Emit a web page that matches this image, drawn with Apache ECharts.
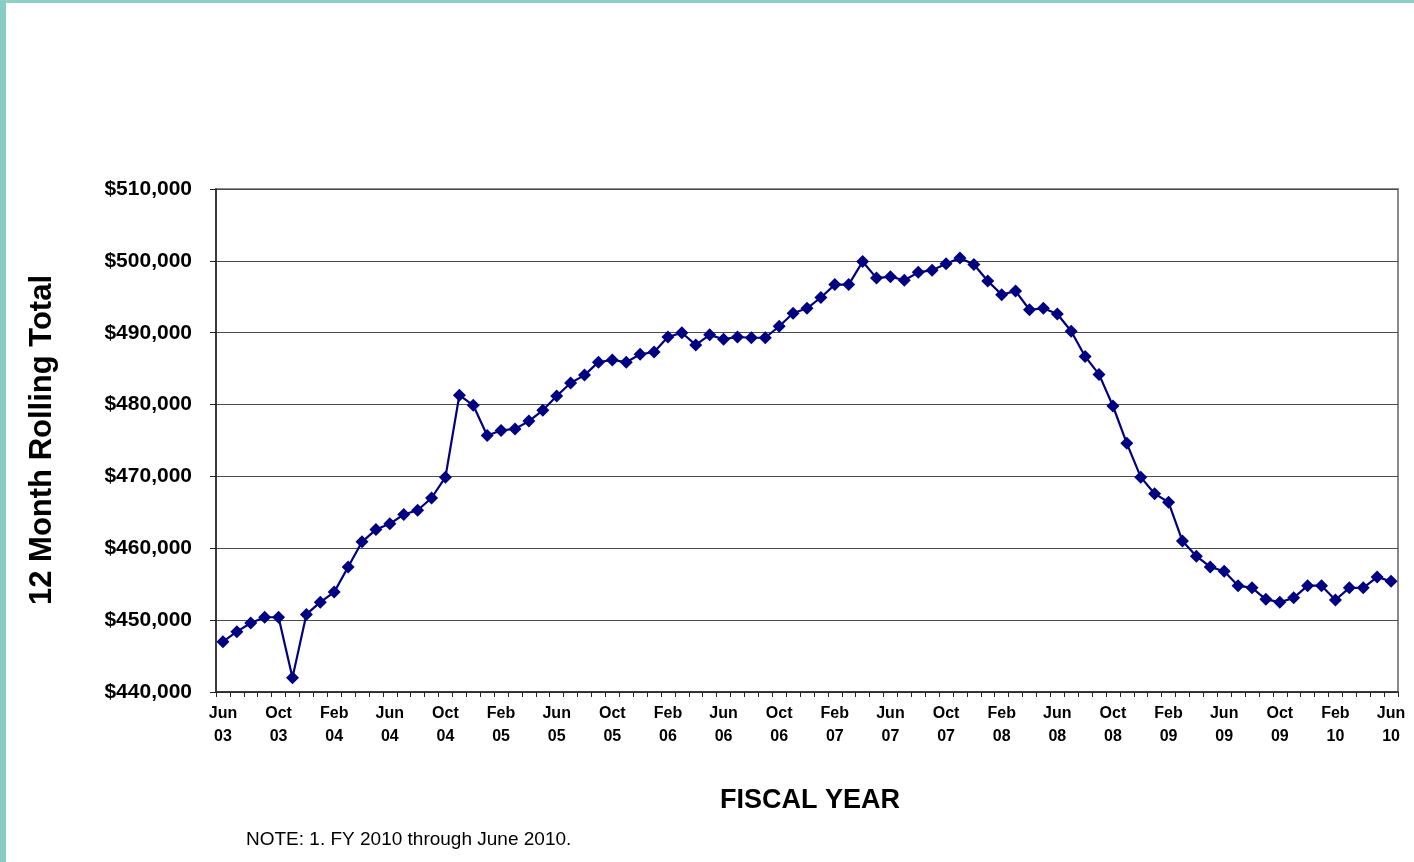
<!DOCTYPE html>
<html>
<head>
<meta charset="utf-8">
<title>12 Month Rolling Total</title>
<script src="https://cdn.jsdelivr.net/npm/echarts@6/dist/echarts.min.js"></script>
<style>
  html, body { margin: 0; padding: 0; background: #ffffff; }
  #frame {
    position: absolute; left: 0; top: 0; width: 1414px; height: 862px;
    box-sizing: border-box;
    border-top: 3px solid #8fd0c6;
    border-left: 6px solid #88cdc4;
  }
  #chart { position: absolute; left: 0; top: 0; width: 1414px; height: 862px; }
</style>
</head>
<body>
<div id="frame"></div>
<div id="chart"></div>
<script>
// Monthly periods, June 2003 through June 2010
const MONTH_NAMES = ['Jan', 'Feb', 'Mar', 'Apr', 'May', 'Jun', 'Jul', 'Aug', 'Sep', 'Oct', 'Nov', 'Dec'];
const START_MONTH_INDEX = 5;   // June
const START_YEAR = 2003;
const PERIOD_COUNT = 85;

// 12-month rolling total, one value per month
const rollingTotal = [
  447000, 448400, 449600, 450400, 450400, 442000, 450800, 452500, 453900, 457400,
  460900, 462600, 463400, 464700, 465300, 467000, 469900, 481300, 479900, 475700,
  476400, 476600, 477700, 479200, 481200, 483000, 484100, 485900, 486200, 485900,
  487000, 487300, 489400, 490000, 488300, 489700, 489100, 489400, 489300, 489300,
  490900, 492700, 493400, 494900, 496700, 496700, 499900, 497600, 497800, 497300,
  498400, 498700, 499600, 500400, 499500, 497200, 495300, 495800, 493200, 493400,
  492600, 490200, 486700, 484200, 479800, 474600, 469900, 467600, 466400, 461000,
  458900, 457400, 456800, 454800, 454500, 452900, 452500, 453100, 454800, 454800,
  452800, 454500, 454500, 456000, 455400
];

// Value axis range
const Y_MIN = 440000;
const Y_MAX = 510000;
const Y_STEP = 10000;

const categories = [];
for (let i = 0; i < PERIOD_COUNT; i++) {
  const m = (START_MONTH_INDEX + i) % 12;
  const y = START_YEAR + Math.floor((START_MONTH_INDEX + i) / 12);
  categories.push(MONTH_NAMES[m] + '\n' + String(y % 100).padStart(2, '0'));
}

const FONT = 'Liberation Sans, Arial, Helvetica, sans-serif';

const chart = echarts.init(document.getElementById('chart'), null, { renderer: 'canvas' });

chart.setOption({
  backgroundColor: 'transparent',
  animation: false,
  grid: {
    left: 216, right: 16, top: 189, bottom: 170,
    show: true,
    borderColor: '#8a8a8a',
    borderWidth: 2,
    backgroundColor: 'transparent'
  },
  xAxis: {
    type: 'category',
    data: categories,
    boundaryGap: true,
    axisLine: { show: true, lineStyle: { color: '#222', width: 1.5 } },
    axisTick: { show: true, interval: 0, length: 5, lineStyle: { color: '#222', width: 1 } },
    axisLabel: {
      interval: 3,
      margin: 10,
      color: '#000',
      fontFamily: FONT,
      fontWeight: 'bold',
      fontSize: 16,
      lineHeight: 23
    },
    splitLine: { show: false }
  },
  yAxis: {
    type: 'value',
    min: Y_MIN,
    max: Y_MAX,
    interval: Y_STEP,
    axisLine: { show: true, lineStyle: { color: '#222', width: 1.5 } },
    axisTick: { show: true, inside: false, length: 6, lineStyle: { color: '#222', width: 1 } },
    axisLabel: {
      margin: 24,
      color: '#000',
      fontFamily: FONT,
      fontWeight: 'bold',
      fontSize: 21,
      formatter: v => '$' + v.toLocaleString('en-US')
    },
    splitLine: { show: true, lineStyle: { color: '#4a4a4a', width: 1.2 } }
  },
  series: [{
    type: 'line',
    data: rollingTotal,
    symbol: 'diamond',
    symbolSize: 13,
    showAllSymbol: true,
    lineStyle: { color: '#000080', width: 2.2 },
    itemStyle: { color: '#000080' },
    z: 5
  }],
  graphic: [
    {
      type: 'text',
      x: 42, y: 440,
      rotation: Math.PI / 2,
      style: {
        text: '12 Month Rolling Total',
        fill: '#000',
        font: 'bold 31px ' + FONT,
        align: 'center',
        verticalAlign: 'middle'
      }
    },
    {
      type: 'text',
      x: 810, y: 801,
      style: {
        text: 'FISCAL YEAR',
        fill: '#000',
        font: 'bold 27px ' + FONT,
        align: 'center',
        verticalAlign: 'middle'
      }
    },
    {
      type: 'text',
      x: 246, y: 840,
      style: {
        text: 'NOTE: 1. FY 2010 through June 2010.',
        fill: '#000',
        font: '19px ' + FONT,
        align: 'left',
        verticalAlign: 'middle'
      }
    }
  ]
});
</script>
</body>
</html>
